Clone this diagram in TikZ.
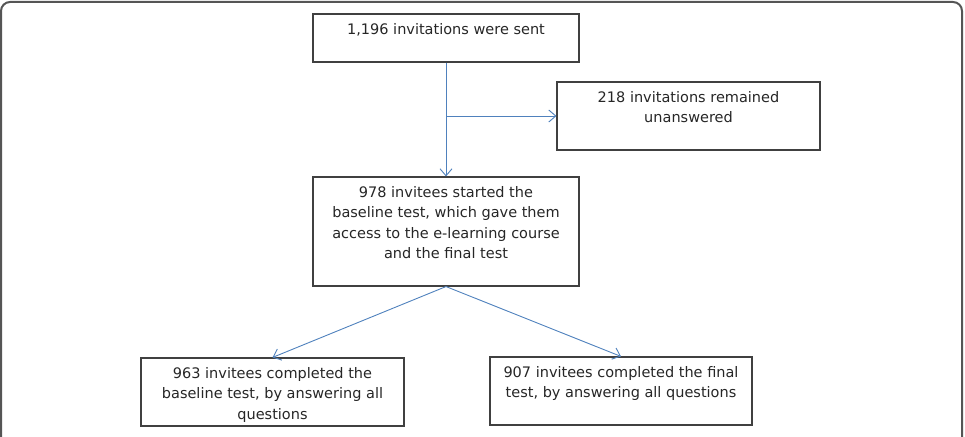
\documentclass[tikz,border=0pt]{standalone}
\usepackage{fontspec}
\setmainfont{DejaVu Sans}
\usetikzlibrary{arrows.meta}
\usetikzlibrary{positioning}

\definecolor{flowblue}{RGB}{79,129,189}
\definecolor{framegray}{RGB}{85,85,85}

\begin{document}
\begin{tikzpicture}[x=1pt, y=-1pt, font=\fontsize{14.5}{20.4}\selectfont,
  box/.style 2 args={rectangle, draw=black!75, line width=1.1pt, inner sep=0pt, text=black!85,
    execute at begin node={\begin{minipage}[c][#2][t]{#1}\centering\rule{0pt}{20.5pt}},
    execute at end node={\end{minipage}}},
  flow/.style={draw=flowblue, line width=0.9pt, -{Straight Barb[length=7pt, width=12pt]}}]

\useasboundingbox (0,0) rectangle (965,436);
\draw[framegray, line width=2pt, rounded corners=9pt] (1,450) -- (1,2) -- (962,2) -- (962,450);

\node[box={266pt}{48pt}] (sent) at (446,38) {1,196 invitations were sent};
\node[box={263pt}{68pt}] (unanswered) at (688.5,116) {218 invitations remained\\unanswered};
\node[box={266pt}{109pt}] (started) at (446,231.5) {978 invitees started the\\baseline test, which gave them\\access to the e-learning course\\and the final test};
\node[box={263pt}{68pt}] (baseline) at (272.5,392) {963 invitees completed the\\baseline test, by answering all\\questions};
\node[box={262pt}{68pt}] (final) at (621,391) {907 invitees completed the final\\test, by answering all questions};

\coordinate (split) at (sent.south |- unanswered.west);

\draw[flow] (sent.south) -- (started.north);
\draw[flow] (split) -- (unanswered.west);
\draw[flow] (started.south) -- (baseline.north);
\draw[flow] (started.south) -- (final.north);

\end{tikzpicture}
\end{document}
